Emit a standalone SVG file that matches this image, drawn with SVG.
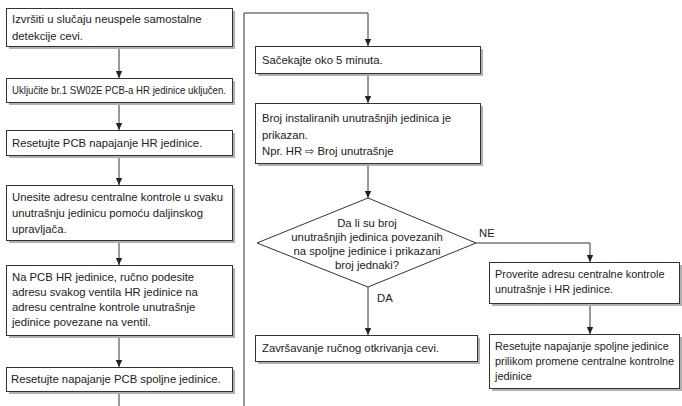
<svg xmlns="http://www.w3.org/2000/svg" width="682" height="406" viewBox="0 0 682 406">
<defs>
<marker id="ah" markerWidth="8" markerHeight="8" refX="7" refY="4" orient="auto" markerUnits="userSpaceOnUse">
<path d="M0,0.8 L7,4 L0,7.2 Z" fill="#222"/>
</marker>
</defs>
<style>
.sh{fill:#b0b0b0}
.bx{fill:#fff;stroke:#333;stroke-width:1}
.t{font-family:"Liberation Sans",Arial,sans-serif;font-size:11.3px;fill:#222}
.s{font-size:10.9px}
.c{stroke:#333;stroke-width:1;fill:none}
.ca{stroke:#333;stroke-width:1;fill:none;marker-end:url(#ah)}
</style>
<rect width="682" height="406" fill="#fff"/>
<g id="connectors">
<line class="ca" x1="119" y1="46" x2="119" y2="78"/>
<line class="ca" x1="119" y1="102" x2="119" y2="130"/>
<line class="ca" x1="119" y1="155" x2="119" y2="185"/>
<line class="ca" x1="119" y1="240" x2="119" y2="265"/>
<line class="ca" x1="119" y1="337" x2="119" y2="367"/>
<line class="c" x1="119" y1="391" x2="119" y2="406"/>
<polyline class="ca" points="244,406 244,13 368,13 368,46"/>
<line class="ca" x1="368" y1="73" x2="368" y2="103"/>
<line class="ca" x1="368" y1="163" x2="368" y2="198"/>
<line class="ca" x1="368" y1="287" x2="368" y2="335"/>
<polyline class="ca" points="476,243 590,243 590,262"/>
<line class="ca" x1="590" y1="303" x2="590" y2="334"/>
<text class="t" x="479" y="237">NE</text>
<text class="t" x="377" y="302">DA</text>
</g>
<g id="n1">
<rect class="sh" x="9" y="11" width="226" height="38"/>
<rect class="bx" x="6.5" y="8.5" width="226" height="38"/>
<text class="t" x="12" y="23">Izvršiti u slučaju neuspele samostalne</text>
<text class="t" x="12" y="40">detekcije cevi.</text>
</g>
<g id="n2">
<rect class="sh" x="9" y="81" width="226" height="24"/>
<rect class="bx" x="6.5" y="78.5" width="226" height="24"/>
<text class="t" x="12" y="94" textLength="214" lengthAdjust="spacingAndGlyphs">Uključite br.1 SW02E PCB-a HR jedinice uključen.</text>
</g>
<g id="n3">
<rect class="sh" x="9" y="133" width="226" height="25"/>
<rect class="bx" x="6.5" y="130.5" width="226" height="25"/>
<text class="t" x="12" y="147">Resetujte PCB napajanje HR jedinice.</text>
</g>
<g id="n4">
<rect class="sh" x="9" y="188" width="226" height="55"/>
<rect class="bx" x="6.5" y="185.5" width="226" height="55"/>
<text class="t" x="12" y="201">Unesite adresu centralne kontrole u svaku</text>
<text class="t" x="12" y="217">unutrašnju jedinicu pomoću daljinskog</text>
<text class="t" x="12" y="233">upravljača.</text>
</g>
<g id="n5">
<rect class="sh" x="9" y="268" width="226" height="70"/>
<rect class="bx" x="6.5" y="265.5" width="226" height="70"/>
<text class="t" x="12" y="281">Na PCB HR jedinice, ručno podesite</text>
<text class="t" x="12" y="296">adresu svakog ventila HR jedinice na</text>
<text class="t" x="12" y="311">adresu centralne kontrole unutrašnje</text>
<text class="t" x="12" y="326">jedinice povezane na ventil.</text>
</g>
<g id="n6">
<rect class="sh" x="9" y="370" width="226" height="24"/>
<rect class="bx" x="6.5" y="367.5" width="226" height="24"/>
<text class="t" x="11" y="383">Resetujte napajanje PCB spoljne jedinice.</text>
</g>
<g id="n7">
<rect class="sh" x="258" y="49" width="225" height="27"/>
<rect class="bx" x="255.5" y="46.5" width="225" height="27"/>
<text class="t" x="262" y="64">Sačekajte oko 5 minuta.</text>
</g>
<g id="n8">
<rect class="sh" x="258" y="106" width="225" height="60"/>
<rect class="bx" x="255.5" y="103.5" width="225" height="60"/>
<text class="t" x="262" y="122">Broj instaliranih unutrašnjih jedinica je</text>
<text class="t" x="262" y="139">prikazan.</text>
<text class="t" x="262" y="155">Npr. HR ⇨ Broj unutrašnje</text>
</g>
<g id="n9">
<polygon points="368,198 476,243 368,287 257,243" fill="#fff" stroke="#333" stroke-width="1"/>
<text class="t" x="367" y="227" text-anchor="middle">Da li su broj</text>
<text class="t" x="367" y="241" text-anchor="middle">unutrašnjih jedinica povezanih</text>
<text class="t" x="367" y="255" text-anchor="middle">na spoljne jedinice i prikazani</text>
<text class="t" x="367" y="269" text-anchor="middle">broj jednaki?</text>
</g>
<g id="n10">
<rect class="sh" x="258" y="338" width="222" height="26"/>
<rect class="bx" x="255.5" y="335.5" width="222" height="26"/>
<text class="t" x="262" y="352">Završavanje ručnog otkrivanja cevi.</text>
</g>
<g id="n11">
<rect class="sh" x="492" y="265" width="190" height="41"/>
<rect class="bx" x="489.5" y="262.5" width="190" height="41"/>
<text class="t s" x="495" y="278">Proverite adresu centralne kontrole</text>
<text class="t s" x="495" y="293">unutrašnje i HR jedinice.</text>
</g>
<g id="n12">
<rect class="sh" x="492" y="337" width="190" height="54"/>
<rect class="bx" x="489.5" y="334.5" width="190" height="54"/>
<text class="t s" x="495" y="350">Resetujte napajanje spoljne jedinice</text>
<text class="t s" x="495" y="365">prilikom promene centralne kontrolne</text>
<text class="t s" x="495" y="380">jedinice</text>
</g>
</svg>
